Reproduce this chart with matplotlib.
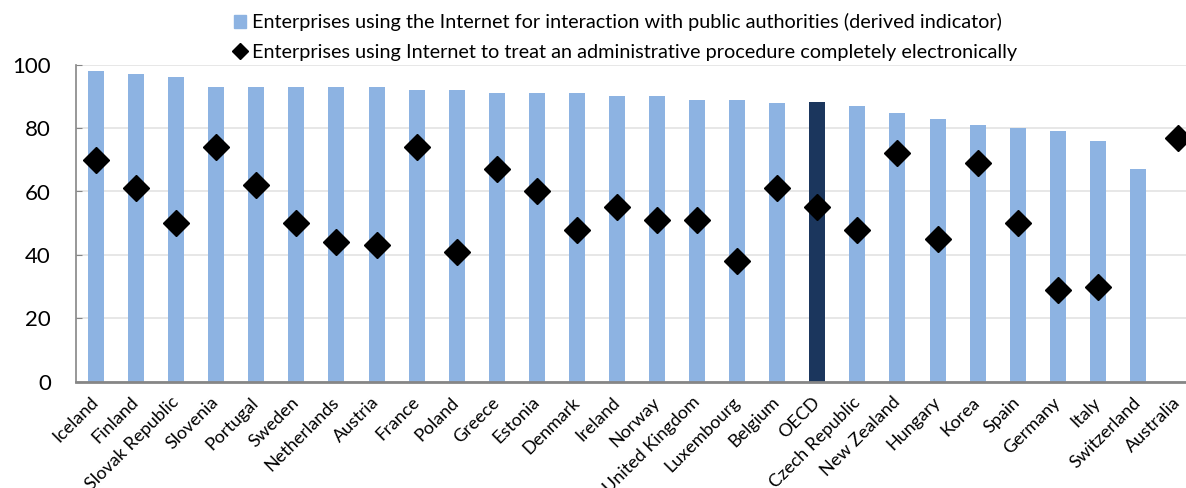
import matplotlib.pyplot as plt
from matplotlib.lines import Line2D
from matplotlib.patches import Patch
import numpy as np

countries = ["Iceland", "Finland", "Slovak Republic", "Slovenia", "Portugal", "Sweden",
             "Netherlands", "Austria", "France", "Poland", "Greece", "Estonia", "Denmark",
             "Ireland", "Norway", "United Kingdom", "Luxembourg", "Belgium", "OECD",
             "Czech Republic", "New Zealand", "Hungary", "Korea", "Spain", "Germany",
             "Italy", "Switzerland", "Australia"]
interaction = [98, 97, 96, 93, 93, 93, 93, 93, 92, 92, 91, 91, 91, 90, 90, 89, 89, 88, 88.2,
               87, 84.7, 83, 81, 80, 79, 76, 67, np.nan]
electronic = [70, 61, 50, 74, 62, 50, 44, 43, 74, 41, 67, 60, 48, 55, 51, 51, 38, 61, 55,
              48, 72, 45, 69, 50, 29, 30, np.nan, 77]

label1 = "Enterprises using the Internet for interaction with public authorities (derived indicator)"
label2 = "Enterprises using Internet to treat an administrative procedure completely electronically"

plt.rcParams['font.family'] = ['Lato', 'DejaVu Sans']

fig = plt.figure(figsize=(11.86, 4.88), dpi=100)
ax = fig.add_axes([76 / 1186, 1 - 381.7 / 488, 1 - 76 / 1186, (381.7 - 64.7) / 488])

x = np.arange(len(countries))
colors = ['#1B365D' if c == "OECD" else '#8DB3E2' for c in countries]
ax.bar(x, interaction, width=0.4, color=colors, zorder=2)
ax.plot(x, electronic, 'D', color='black', markersize=13, zorder=3)

ax.set_xlim(-0.5, 27.2)
ax.set_ylim(0, 100)
ax.set_yticks([0, 20, 40, 60, 80, 100])
ax.yaxis.grid(True, color='#E3E3E3', linewidth=1.2, zorder=0)
ax.set_axisbelow(True)
for s in ['top', 'right']:
    ax.spines[s].set_visible(False)
ax.spines['left'].set_color('#868686')
ax.spines['left'].set_linewidth(1.2)
ax.spines['bottom'].set_color('#868686')
ax.spines['bottom'].set_linewidth(2)
ax.tick_params(axis='y', direction='in', length=4, color='#868686', labelsize=16, pad=18)
ax.tick_params(axis='x', length=0, pad=13)
ax.set_xticks(x)
ax.set_xticklabels(countries, rotation=45, ha='right', va='center',
                   rotation_mode='anchor', fontsize=13)

handles = [Patch(color='#8DB3E2'),
           Line2D([], [], marker='D', color='black', linestyle='none', markersize=8)]
fig.legend(handles, [label1, label2], loc='upper left', bbox_to_anchor=(234 / 1186, 1 - 13 / 488),
           frameon=False, fontsize=14.3, handlelength=0.62, handleheight=0.62,
           handletextpad=0.3, labelspacing=0.65, borderaxespad=0, borderpad=0)

fig.savefig('out.png', dpi=100)
